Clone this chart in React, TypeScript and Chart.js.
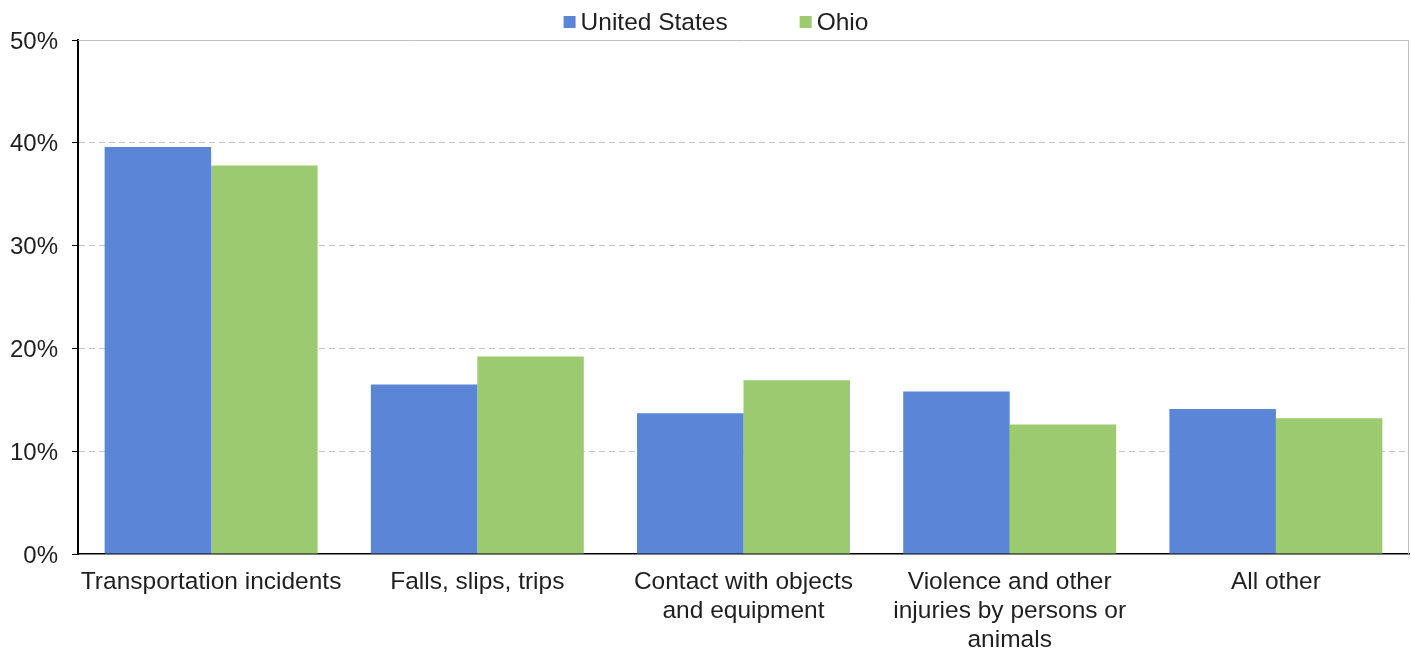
import React, { useEffect, useRef } from "react";
import { Chart, registerables } from "chart.js";

Chart.register(...registerables);

const categories: (string | string[])[] = [
  "Transportation incidents",
  "Falls, slips, trips",
  ["Contact with objects", "and equipment"],
  ["Violence and other", "injuries by persons or", "animals"],
  "All other",
];
const unitedStates = [39.6, 16.5, 13.7, 15.8, 14.1];
const ohio = [37.8, 19.2, 16.9, 12.6, 13.2];
const seriesNames = ["United States", "Ohio"];
const seriesColors = ["#5B85D6", "#9BCA71"];
const yTicks = [0, 10, 20, 30, 40, 50];

const FONT = "'Liberation Sans', Arial, sans-serif";
const TEXT = "#1f1f1f";

export default function App() {
  const ref = useRef<HTMLCanvasElement | null>(null);
  useEffect(() => {
    document.body.style.margin = "0";
    const canvas = ref.current;
    if (!canvas) return;

    const framePlugin = {
      id: "frame",
      afterDatasetsDraw(chart: any) {
        const { ctx, chartArea } = chart;
        ctx.save();
        ctx.strokeStyle = "#bfbfbf";
        ctx.lineWidth = 1;
        ctx.beginPath();
        ctx.moveTo(chartArea.left, chartArea.top + 0.5);
        ctx.lineTo(chartArea.right - 0.5, chartArea.top + 0.5);
        ctx.lineTo(chartArea.right - 0.5, chartArea.bottom);
        ctx.stroke();
        ctx.restore();
      },
      afterDraw(chart: any) {
        const { ctx } = chart;
        ctx.save();
        ctx.font = `24.5px ${FONT}`;
        ctx.textBaseline = "middle";
        const box = 12;
        const gap = 5;
        const itemGap = 72;
        const widths = seriesNames.map((n) => ctx.measureText(n).width);
        const total =
          widths.reduce((a: number, w: number) => a + box + gap + w, 0) +
          itemGap * (seriesNames.length - 1);
        let x = 716 - total / 2;
        const y = 22;
        seriesNames.forEach((n, i) => {
          ctx.fillStyle = seriesColors[i];
          ctx.fillRect(x, y - box / 2, box, box);
          x += box + gap;
          ctx.fillStyle = TEXT;
          ctx.textAlign = "left";
          ctx.fillText(n, x, y + 1);
          x += widths[i] + itemGap;
        });
        ctx.restore();
      },
    };

    const chart = new Chart(canvas, {
      type: "bar",
      data: {
        labels: categories,
        datasets: [
          {
            label: seriesNames[0],
            data: unitedStates,
            backgroundColor: seriesColors[0],
            categoryPercentage: 0.8,
            barPercentage: 1.0,
          },
          {
            label: seriesNames[1],
            data: ohio,
            backgroundColor: seriesColors[1],
            categoryPercentage: 0.8,
            barPercentage: 1.0,
          },
        ],
      },
      options: {
        responsive: false,
        animation: false,
        layout: { padding: { top: 40, right: 2, left: 0, bottom: 0 } },
        plugins: {
          legend: { display: false },
          tooltip: { enabled: false },
        },
        scales: {
          x: {
            grid: { display: false, drawTicks: true, tickLength: 8 },
            border: { color: "#000", width: 1.5 },
            ticks: {
              color: TEXT,
              font: { family: FONT, size: 24.5, lineHeight: 1.18 },
              padding: 6,
              maxRotation: 0,
              autoSkip: false,
            },
            afterFit(scale: any) {
              scale.height = 97;
            },
          },
          y: {
            min: 0,
            max: 50,
            afterBuildTicks(scale: any) {
              scale.ticks = yTicks.map((v) => ({ value: v }));
            },
            grid: {
              color: (ctx: any) =>
                ctx.tick && (ctx.tick.value === 0 || ctx.tick.value === 50)
                  ? "rgba(0,0,0,0)"
                  : "#c4c4c4",
              tickColor: "#000",
              tickLength: 6,
              lineWidth: 1,
            },
            border: { color: "#000", width: 2, dash: [6, 4] },
            ticks: {
              color: TEXT,
              font: { family: FONT, size: 24 },
              padding: 14,
              labelOffset: 2,
              callback: (v: any) => `${v}%`,
            },
            afterFit(scale: any) {
              scale.width = 78;
            },
          },
        },
      },
      plugins: [framePlugin],
    });
    return () => chart.destroy();
  }, []);

  return (
    <div style={{ width: 1411, height: 651 }}>
      <canvas ref={ref} width={1411} height={651} style={{ display: "block" }} />
    </div>
  );
}
